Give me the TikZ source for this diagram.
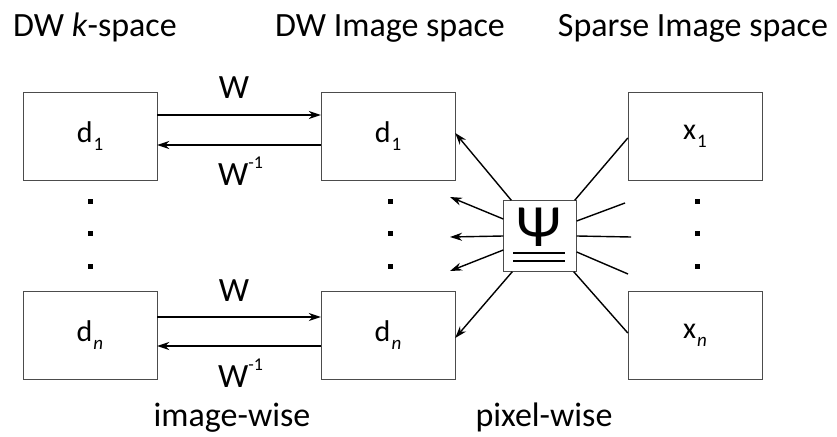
\documentclass[tikz,border=0pt]{standalone}
\usepackage{fontspec}
\setmainfont{Carlito}
\usetikzlibrary{arrows.meta}

\newcommand{\lowidx}[1]{\kern1pt\raisebox{-8pt}{\fontsize{19}{20}\selectfont #1}}
\newcommand{\highidx}[1]{\raisebox{17pt}{\fontsize{18}{20}\selectfont #1}}

\tikzset{
  blockbox/.style={draw=black!70,thin,minimum width=134pt,minimum height=88pt,inner sep=0pt,font=\fontsize{30}{34}\selectfont},
  heading/.style={font=\fontsize{34}{40}\selectfont,anchor=base,inner sep=0pt},
  oplabel/.style={font=\fontsize{34}{40}\selectfont,inner sep=0pt},
  vdot/.style={fill=black,minimum size=5pt,inner sep=0pt},
  link/.style={line width=1.4pt,-{Stealth[length=12pt,width=8pt]}},
  plain/.style={line width=1.4pt}
}

\begin{document}
\begin{tikzpicture}[x=1pt,y=-1pt]
    \useasboundingbox (0,0) rectangle (837,436);
    % headings
    \node[heading] (hk) at (95,37) {DW \textit{k}-space};
    \node[heading] (hi) at (390,37) {DW Image space};
    \node[heading] (hx) at (693,37) {Sparse Image space};
    % boxes
    \node[blockbox] (k1) at (90,136) {d\lowidx{1}};
    \node[blockbox] (kn) at (90,335) {d\lowidx{\textit{n}}};
    \node[blockbox] (i1) at (388,136) {d\lowidx{1}};
    \node[blockbox] (in) at (388,335) {d\lowidx{\textit{n}}};
    \node[blockbox] (x1) at (695,136) {x\lowidx{1}};
    \node[blockbox] (xn) at (695,335) {x\lowidx{\textit{n}}};
    % dots
    \foreach \dx/\nm in {90/k,390/i,697/x}{
      \node[vdot] (\nm a) at (\dx,201) {};
      \node[vdot] (\nm b) at (\dx,233) {};
      \node[vdot] (\nm c) at (\dx,266) {};
    }
    % image-wise transforms
    \draw[link] ([yshift=21pt]k1.east) -- ([yshift=21pt]i1.west);
    \draw[link] ([yshift=-9pt]i1.west) -- ([yshift=-9pt]k1.east);
    \draw[link] ([yshift=18pt]kn.east) -- ([yshift=18pt]in.west);
    \draw[link] ([yshift=-11pt]in.west) -- ([yshift=-11pt]kn.east);
    \node[oplabel,anchor=base] (w1) at (234,98) {W};
    \node[oplabel,anchor=base west] (wi1) at (218,185) {W\highidx{-1}};
    \node[oplabel,anchor=base] (wn) at (234,301) {W};
    \node[oplabel,anchor=base west] (win) at (218,387) {W\highidx{-1}};
    % pixel-wise transform
    \node[draw=black!70,thin,minimum width=73pt,minimum height=71pt,inner sep=0pt] (psi) at (540,236) {};
    \node[font=\fontsize{60}{60}\selectfont,inner sep=0pt] (psy) at (539,227) {Ψ};
    \draw[line width=1.4pt] (513,253) -- (565,253);
    \draw[line width=1.4pt] (513,261) -- (565,261);
    \coordinate (la) at (450,197);
    \coordinate (lb) at (450,237);
    \coordinate (lc) at (450,271);
    \coordinate (ra) at (625,203);
    \coordinate (rb) at (631,237);
    \coordinate (rc) at (628,274);
    \draw[link] ([xshift=8pt]psi.north west) -- ([yshift=3pt]i1.east);
    \draw[link] ([yshift=17pt]psi.west) -- (la);
    \draw[link] (psi.west) -- (lb);
    \draw[link] ([yshift=-14pt]psi.west) -- (lc);
    \draw[link] ([xshift=9pt]psi.south west) -- ([yshift=-3pt]in.east);
    \draw[plain] ([xshift=-2pt]psi.north east) -- ([yshift=-2pt]x1.west);
    \draw[plain] ([yshift=15pt]psi.east) -- (ra);
    \draw[plain] (psi.east) -- (rb);
    \draw[plain] ([yshift=-16pt]psi.east) -- (rc);
    \draw[plain] ([xshift=-3pt]psi.south east) -- ([yshift=2pt]xn.west);
    % footers
    \node[heading] (fi) at (232,426) {image-wise};
    \node[heading] (fp) at (544,426) {pixel-wise};
\end{tikzpicture}
\end{document}
